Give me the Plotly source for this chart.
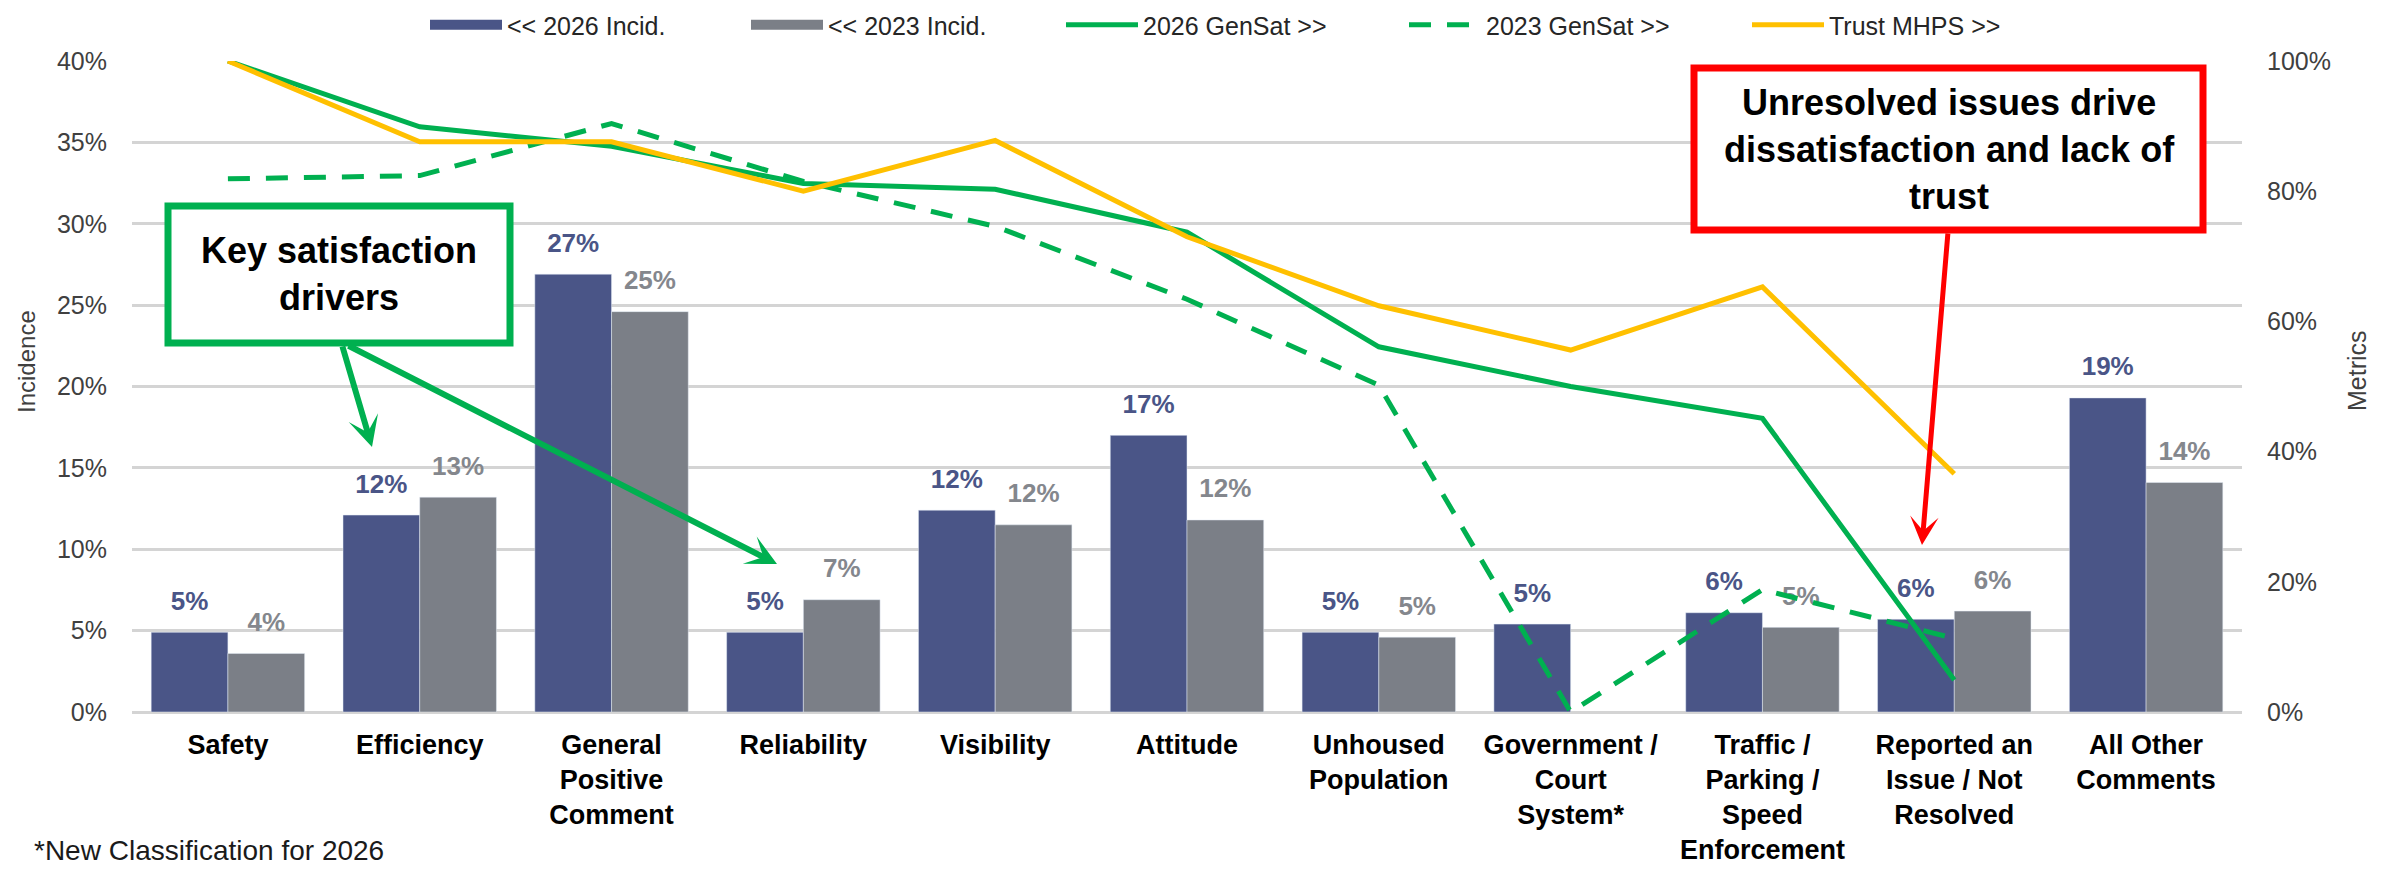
import plotly.graph_objects as go

categories = ["Safety", "Efficiency", "General<br>Positive<br>Comment", "Reliability", "Visibility",
              "Attitude", "Unhoused<br>Population", "Government /<br>Court<br>System*",
              "Traffic /<br>Parking /<br>Speed<br>Enforcement", "Reported an<br>Issue / Not<br>Resolved",
              "All Other<br>Comments"]
incid_2026 = [0.049, 0.121, 0.269, 0.049, 0.124, 0.170, 0.049, 0.054, 0.061, 0.057, 0.193]
incid_2023 = [0.036, 0.132, 0.246, 0.069, 0.115, 0.118, 0.046, None, 0.052, 0.062, 0.141]
gensat_2026 = [1.00, 0.899, 0.869, 0.812, 0.803, 0.737, 0.561, 0.500, 0.451, 0.049, None]
gensat_2023 = [0.819, 0.824, 0.904, 0.815, 0.746, 0.634, 0.502, 0.0, 0.188, 0.113, None]
trust_mhps = [1.00, 0.876, 0.876, 0.800, 0.878, 0.730, 0.624, 0.556, 0.653, 0.366, None]
left_ticks = [0, 0.05, 0.10, 0.15, 0.20, 0.25, 0.30, 0.35, 0.40]
right_ticks = [0, 0.2, 0.4, 0.6, 0.8, 1.0]

NAVY = "#4A5587"
GRAY = "#7B7F87"
GRAYTXT = "#84878D"
GREEN = "#00B050"
YELLOW = "#FFC000"
FONT = "Liberation Sans, Arial, sans-serif"

# page is rendered with an 8px body margin, so the figure is offset by 8px
OFF = 8
W, H = 2389 - OFF, 870 - OFF
PL, PT, PR, PB = 132, 61, 2242, 712          # plot area in page pixels
L, T = PL - OFF, PT - OFF
R, B = W - (PR - OFF), H - (PB - OFF)
PW, PH = PR - PL, PB - PT


def px(X):
    return (X - PL) / PW


def py(Y):
    return (PB - Y) / PH


idx = list(range(len(categories)))
BARGAP = 0.2
half = (1 - BARGAP) / 4  # centre offset of each bar in a 2-bar group

fig = go.Figure()
fig.add_trace(go.Bar(x=idx, y=incid_2026, marker_color=NAVY, name="<< 2026 Incid.",
                     showlegend=False, offsetgroup="a"))
fig.add_trace(go.Bar(x=idx, y=incid_2023, marker_color=GRAY, name="<< 2023 Incid.",
                     showlegend=False, offsetgroup="b"))

# legend stand-ins for the bars (wide swatches)
fig.add_trace(go.Scatter(x=[None], y=[None], mode="lines", line=dict(color=NAVY, width=15),
                         name="<< 2026 Incid.", legend="legend"))
fig.add_trace(go.Scatter(x=[None], y=[None], mode="lines", line=dict(color=GRAY, width=15),
                         name="<< 2023 Incid.", legend="legend"))

fig.add_trace(go.Scatter(x=idx, y=gensat_2026, mode="lines", yaxis="y2", legend="legend2",
                         line=dict(color=GREEN, width=5), name="2026 GenSat >>"))
fig.add_trace(go.Scatter(x=idx, y=gensat_2023, mode="lines", yaxis="y2", legend="legend2",
                         line=dict(color=GREEN, width=5, dash="22px,16px"), name="2023 GenSat >>"))
fig.add_trace(go.Scatter(x=idx, y=trust_mhps, mode="lines", yaxis="y2", legend="legend2",
                         line=dict(color=YELLOW, width=5), name="Trust MHPS >>"))


def lab(v):
    return None if v is None else f"{v*100:.0f}%"


fig.add_trace(go.Scatter(x=[i - half for i in idx], y=incid_2026, mode="markers+text",
                         marker=dict(size=24, opacity=0), text=[lab(v) for v in incid_2026],
                         textposition="top center", showlegend=False, hoverinfo="skip",
                         textfont=dict(family=FONT, size=26, color=NAVY, weight="bold"),
                         cliponaxis=False))
fig.add_trace(go.Scatter(x=[i + half for i in idx], y=incid_2023, mode="markers+text",
                         marker=dict(size=24, opacity=0), text=[lab(v) for v in incid_2023],
                         textposition="top center", showlegend=False, hoverinfo="skip",
                         textfont=dict(family=FONT, size=26, color=GRAYTXT, weight="bold"),
                         cliponaxis=False))

shapes = [
    dict(type="rect", xref="paper", yref="paper", x0=px(168), x1=px(510), y0=py(343), y1=py(206),
         line=dict(color=GREEN, width=7), fillcolor="white", layer="above"),
    dict(type="rect", xref="paper", yref="paper", x0=px(1694), x1=px(2203), y0=py(230), y1=py(68),
         line=dict(color="#FF0000", width=7), fillcolor="white", layer="above"),
]

C = dict(xanchor="center", yanchor="middle", showarrow=False)
annotations = [
    dict(xref="paper", yref="paper", x=px(339), y=py(274), text="<b>Key satisfaction<br>drivers</b>",
         font=dict(family=FONT, size=36, color="black"), align="center", **C),
    dict(xref="paper", yref="paper", x=px(1949), y=py(149),
         text="<b>Unresolved issues drive<br>dissatisfaction and lack of<br>trust</b>",
         font=dict(family=FONT, size=36, color="black"), align="center", **C),
    # arrows
    dict(xref="paper", yref="paper", x=px(372), y=py(447), ax=-30, ay=-102, text="",
         showarrow=True, arrowhead=3, arrowsize=0.85, arrowwidth=6, arrowcolor=GREEN),
    dict(xref="paper", yref="paper", x=px(777), y=py(564), ax=-430, ay=-219, text="",
         showarrow=True, arrowhead=3, arrowsize=0.85, arrowwidth=6, arrowcolor=GREEN),
    dict(xref="paper", yref="paper", x=px(1922), y=py(545), ax=26, ay=-313, text="",
         showarrow=True, arrowhead=3, arrowsize=0.95, arrowwidth=5, arrowcolor="#FF0000"),
    # axis titles
    dict(xref="paper", yref="paper", x=px(26), y=py(362), text="Incidence", textangle=-90,
         font=dict(family=FONT, size=24, color="#404040"), **C),
    dict(xref="paper", yref="paper", x=px(2357), y=py(371), text="Metrics", textangle=-90,
         font=dict(family=FONT, size=25, color="#404040"), **C),
    # footnote
    dict(xref="paper", yref="paper", x=px(32), y=py(850), xanchor="left", yanchor="middle",
         text="*New Classification for 2026", showarrow=False,
         font=dict(family=FONT, size=28, color="#1a1a1a")),
]

LEG = dict(orientation="h", y=py(25), yanchor="middle", xanchor="left",
           font=dict(family=FONT, size=25, color="#262626"), itemwidth=72,
           bgcolor="rgba(0,0,0,0)")

fig.update_layout(
    width=W, height=H,
    margin=dict(l=L, r=R, t=T, b=B, autoexpand=False),
    paper_bgcolor="white", plot_bgcolor="white",
    barmode="group", bargap=BARGAP, bargroupgap=0,
    font=dict(family=FONT, color="#404040"),
    xaxis=dict(range=[-0.5, len(categories) - 0.5], tickvals=idx, ticktext=categories,
               showgrid=False, zeroline=False, showline=False, ticks="",
               tickfont=dict(family=FONT, size=27, color="black", weight="bold"),
               ticklabelstandoff=14, automargin=False),
    yaxis=dict(range=[0, 0.40], tickvals=left_ticks, tickformat=".0%", showgrid=True,
               gridcolor="#D4D4D4", gridwidth=2.5, zeroline=True, zerolinecolor="#D4D4D4",
               zerolinewidth=2.5, showline=False, ticks="", automargin=False,
               tickfont=dict(family=FONT, size=25, color="#404040"), ticklabelstandoff=24),
    yaxis2=dict(range=[0, 1.0], tickvals=right_ticks, tickformat=".0%", overlaying="y", side="right",
                showgrid=False, zeroline=False, showline=False, ticks="", automargin=False,
                tickfont=dict(family=FONT, size=25, color="#404040"), ticklabelstandoff=24),
    legend=dict(x=px(425), entrywidth=234, **LEG),
    legend2=dict(x=px(1061), entrywidth=256, **LEG),
    shapes=shapes,
    annotations=annotations,
)

fig.write_html("out.html")
